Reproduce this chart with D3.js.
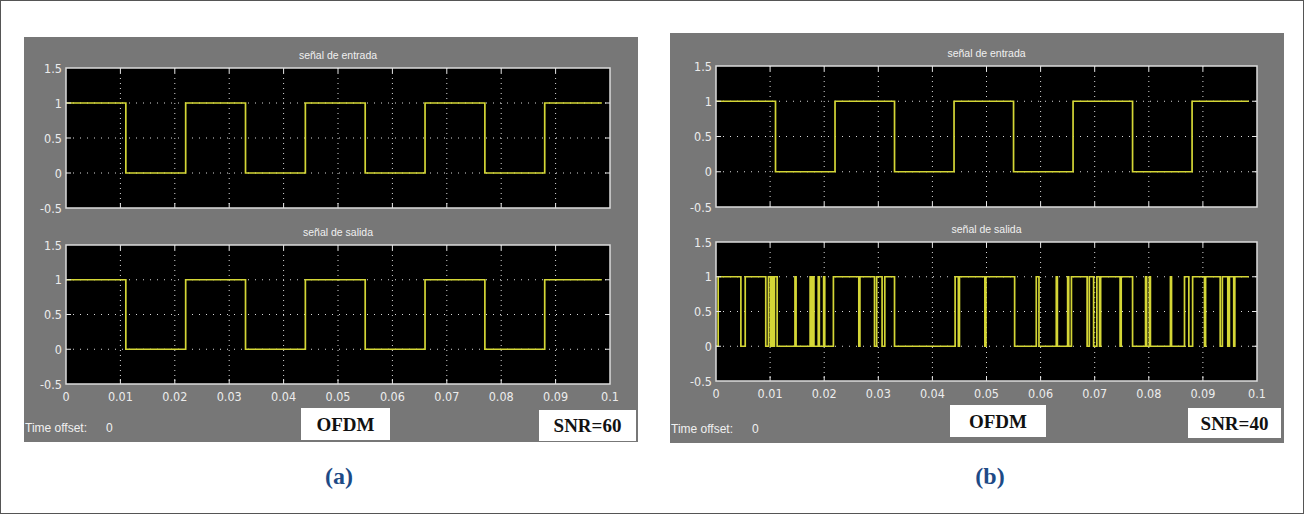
<!DOCTYPE html>
<html lang="en">
  <head>
    <meta charset="utf-8">
    <title>OFDM scope</title>
    <script src="https://cdnjs.cloudflare.com/ajax/libs/d3/7.8.5/d3.min.js"></script>
    <style>
      body { margin: 0; background: #fff; }
      .tick-label { fill: #ececec; font-family: "Liberation Sans Narrow", "DejaVu Sans Condensed", "Liberation Sans", sans-serif; font-size: 12.5px; }
      .scope-title { fill: #f0f0f0; font-family: "Liberation Sans Narrow", "Liberation Sans", sans-serif; font-size: 10.5px; }
      .offset { fill: #f0f0f0; font-family: "Liberation Sans Narrow", "Liberation Sans", sans-serif; font-size: 12px; }
      .tag { font-family: "Liberation Serif", "DejaVu Serif", serif; font-weight: bold; font-size: 19px; fill: #111; }
      .caption { font-family: "Liberation Serif", "DejaVu Serif", serif; font-weight: bold; font-size: 24px; fill: #1d4a86; }
    </style>
  </head>
  <body>
    <script>
    // --- data ---
    const xTicks = [0, 0.01, 0.02, 0.03, 0.04, 0.05, 0.06, 0.07, 0.08, 0.09, 0.1];
    const xTickLabels = ["0", "0.01", "0.02", "0.03", "0.04", "0.05", "0.06", "0.07", "0.08", "0.09", "0.1"];
    const yTicks = [-0.5, 0, 0.5, 1, 1.5];
    const yTickLabels = ["-0.5", "0", "0.5", "1", "1.5"];
    const gridY = [0, 0.5, 1];

    const tEnd = 0.0985;
    // square wave: starts high, toggles at each edge
    const inputStart = 1;
    const inputEdges = [0.011, 0.022, 0.033, 0.044, 0.055, 0.066, 0.077, 0.088];
    // output at SNR=60 (same as input)
    const outputStartA = 1;
    const outputEdgesA = [0.011, 0.022, 0.033, 0.044, 0.055, 0.066, 0.077, 0.088];
    // output at SNR=40, many bit errors
    const outputStartB = 0;
    const outputEdgesB = [
      0.0004, 0.0046, 0.0054, 0.0092, 0.0097, 0.0101, 0.0103, 0.0106, 0.0108, 0.0113,
      0.0146, 0.0148, 0.0174, 0.0176, 0.0179, 0.0181, 0.0189, 0.0191, 0.0199, 0.0201,
      0.0217, 0.0264, 0.0266, 0.0293, 0.0297, 0.0307, 0.0312, 0.0330,
      0.0442, 0.0448, 0.0450, 0.0497, 0.0499, 0.0552,
      0.0592, 0.0597, 0.0629, 0.0631, 0.0650, 0.0652, 0.0657,
      0.0686, 0.0690, 0.0698, 0.0704, 0.0709, 0.0711, 0.0747, 0.0749, 0.0770,
      0.0794, 0.0796, 0.0801, 0.0803, 0.0840, 0.0842, 0.0866, 0.0874, 0.0881,
      0.0903, 0.0905, 0.0932, 0.0936, 0.0946, 0.0949, 0.0957, 0.0959
    ];

    const w = 1304, h = 514;
    const lineColor = "#d4d636";

    const svg = d3.select("body").append("svg")
      .attr("width", w).attr("height", h);

    svg.append("rect").attr("x", 0.5).attr("y", 0.5)
      .attr("width", w - 1).attr("height", h - 1)
      .attr("fill", "#fff").attr("stroke", "#555");

    function toSteps(start, edges, end) {
      let v = start;
      const pts = [{t: 0, v: v}];
      edges.forEach(e => { v = 1 - v; pts.push({t: e, v: v}); });
      pts.push({t: end, v: v});
      return pts;
    }

    function drawAxes(g, box, title, steps, showX) {
      const x = d3.scaleLinear().domain([0, 0.1]).range([box.x0, box.x1]);
      const y = d3.scaleLinear().domain([-0.5, 1.5]).range([box.y1, box.y0]);

      g.append("rect")
        .attr("x", box.x0).attr("y", box.y0)
        .attr("width", box.x1 - box.x0).attr("height", box.y1 - box.y0)
        .attr("fill", "#000");

      // dotted grid
      g.selectAll(null).data(xTicks.slice(1, -1)).enter().append("line")
        .attr("x1", d => x(d)).attr("x2", d => x(d))
        .attr("y1", box.y0).attr("y2", box.y1)
        .attr("stroke", "#d8d8d8").attr("stroke-width", 1)
        .attr("stroke-dasharray", "1,4");
      g.selectAll(null).data(gridY).enter().append("line")
        .attr("x1", box.x0).attr("x2", box.x1)
        .attr("y1", d => y(d)).attr("y2", d => y(d))
        .attr("stroke", "#d8d8d8").attr("stroke-width", 1)
        .attr("stroke-dasharray", "1,6");

      // signal
      const line = d3.line()
        .x(d => x(d.t)).y(d => y(d.v))
        .curve(d3.curveStepAfter);
      g.append("path").datum(steps)
        .attr("d", line)
        .attr("fill", "none")
        .attr("stroke", lineColor)
        .attr("stroke-width", 1.7);

      // tick marks inward on all sides
      g.selectAll(null).data(xTicks.slice(1, -1)).enter().append("g")
        .each(function (d) {
          const s = d3.select(this);
          s.append("line").attr("x1", x(d)).attr("x2", x(d))
            .attr("y1", box.y0).attr("y2", box.y0 + 5).attr("stroke", "#e6e6e6");
          s.append("line").attr("x1", x(d)).attr("x2", x(d))
            .attr("y1", box.y1).attr("y2", box.y1 - 5).attr("stroke", "#e6e6e6");
        });
      g.selectAll(null).data(gridY).enter().append("g")
        .each(function (d) {
          const s = d3.select(this);
          s.append("line").attr("x1", box.x0).attr("x2", box.x0 + 5)
            .attr("y1", y(d)).attr("y2", y(d)).attr("stroke", "#e6e6e6");
          s.append("line").attr("x1", box.x1).attr("x2", box.x1 - 5)
            .attr("y1", y(d)).attr("y2", y(d)).attr("stroke", "#e6e6e6");
        });

      g.append("rect")
        .attr("x", box.x0).attr("y", box.y0)
        .attr("width", box.x1 - box.x0).attr("height", box.y1 - box.y0)
        .attr("fill", "none").attr("stroke", "#dcdcdc").attr("stroke-width", 1.5);

      g.selectAll(null).data(yTicks).enter().append("text")
        .attr("class", "tick-label")
        .attr("x", box.x0 - 4).attr("y", d => y(d) + 4.5)
        .attr("text-anchor", "end")
        .text((d, i) => yTickLabels[i]);

      if (showX) {
        g.selectAll(null).data(xTicks).enter().append("text")
          .attr("class", "tick-label")
          .attr("x", d => x(d)).attr("y", box.y1 + 17)
          .attr("text-anchor", "middle")
          .text((d, i) => xTickLabels[i]);
      }

      g.append("text").attr("class", "scope-title")
        .attr("x", (box.x0 + box.x1) / 2).attr("y", box.y0 - 9)
        .attr("text-anchor", "middle")
        .text(title);
    }

    function drawPanel(p) {
      const g = svg.append("g");
      g.append("rect")
        .attr("x", p.px0).attr("y", p.py0)
        .attr("width", p.px1 - p.px0).attr("height", p.py1 - p.py0)
        .attr("fill", "#777777");

      drawAxes(g, p.top, "señal de entrada", toSteps(inputStart, inputEdges, tEnd), false);
      drawAxes(g, p.bottom, "señal de salida", toSteps(p.outStart, p.outEdges, tEnd), true);

      const off = g.append("text").attr("class", "offset")
        .attr("x", p.px0 + 1).attr("y", p.py1 - 10);
      off.append("tspan").text("Time offset:");
      off.append("tspan").attr("x", p.px0 + 82).text("0");

      // white tag boxes
      [p.tagA, p.tagB].forEach(t => {
        g.append("rect").attr("x", t.x).attr("y", t.y)
          .attr("width", t.w).attr("height", t.h).attr("fill", "#fff");
        g.append("text").attr("class", "tag")
          .attr("x", t.x + t.w / 2).attr("y", t.y + t.h / 2 + 6.5)
          .attr("text-anchor", "middle").text(t.text);
      });

      svg.append("text").attr("class", "caption")
        .attr("x", p.capX).attr("y", 484)
        .attr("text-anchor", "middle").text(p.caption);
    }

    drawPanel({
      px0: 24, px1: 638, py0: 37, py1: 442,
      top: {x0: 66, x1: 610, y0: 68, y1: 208},
      bottom: {x0: 66, x1: 610, y0: 245, y1: 384},
      outStart: outputStartA, outEdges: outputEdgesA,
      tagA: {x: 301, y: 408, w: 89, h: 32, text: "OFDM"},
      tagB: {x: 539, y: 410, w: 97, h: 31, text: "SNR=60"},
      capX: 339, caption: "(a)"
    });

    drawPanel({
      px0: 670, px1: 1284, py0: 33, py1: 443,
      top: {x0: 716, x1: 1257, y0: 66, y1: 207},
      bottom: {x0: 716, x1: 1257, y0: 242, y1: 381},
      outStart: outputStartB, outEdges: outputEdgesB,
      tagA: {x: 950, y: 405, w: 96, h: 32, text: "OFDM"},
      tagB: {x: 1188, y: 408, w: 93, h: 30, text: "SNR=40"},
      capX: 990, caption: "(b)"
    });
    </script>
  </body>
</html>
